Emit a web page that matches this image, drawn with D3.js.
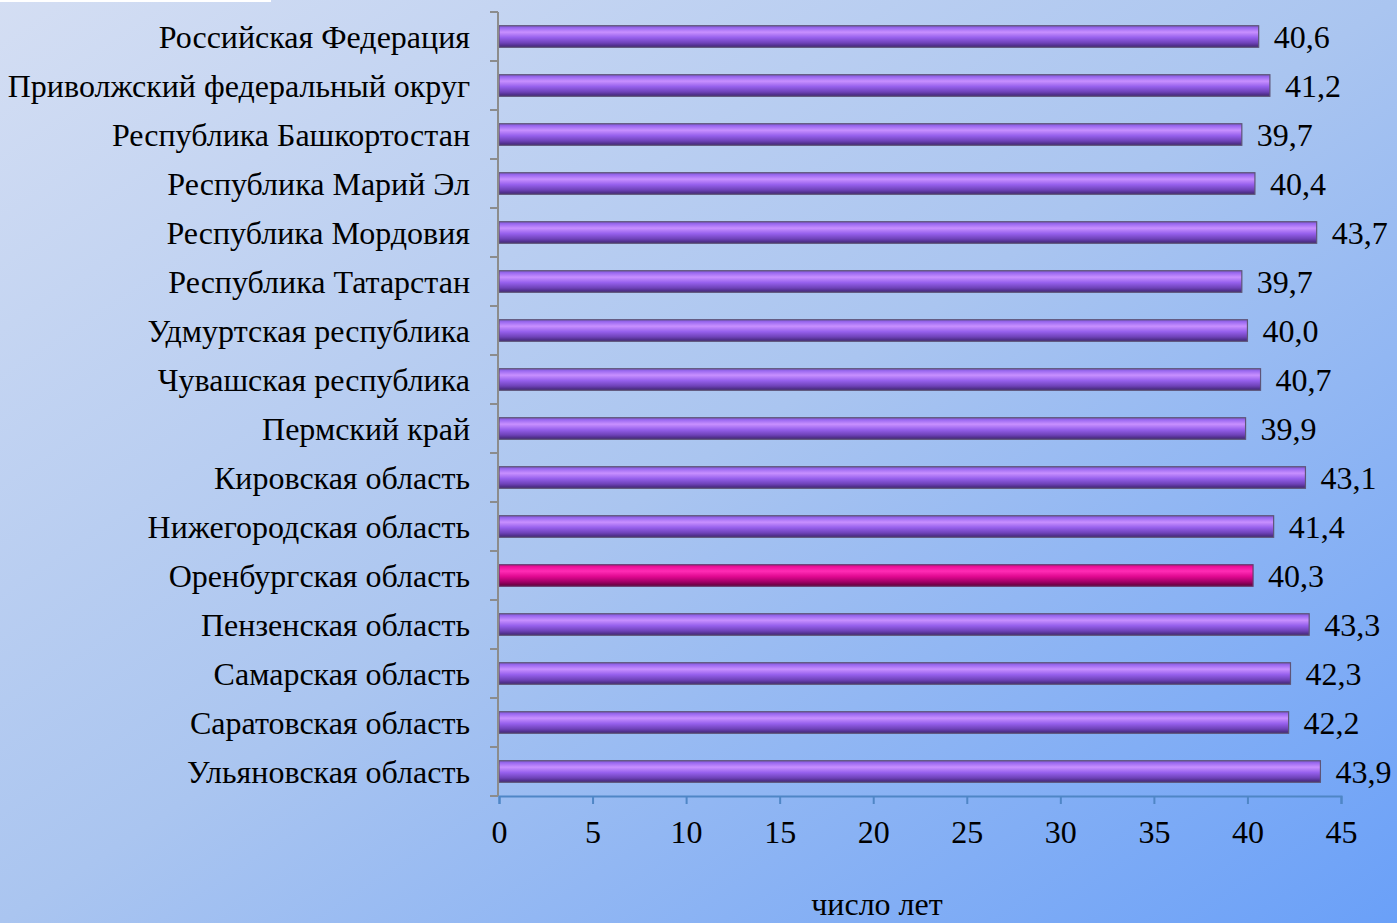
<!DOCTYPE html>
<html>
<head>
<meta charset="utf-8">
<script src="https://cdn.jsdelivr.net/npm/d3@7"></script>
<style>
html,body{margin:0;padding:0;overflow:hidden;}
svg{display:block;}
</style>
</head>
<body>
<script>
const categories = [
  "Российская Федерация",
  "Приволжский федеральный округ",
  "Республика Башкортостан",
  "Республика Марий Эл",
  "Республика Мордовия",
  "Республика Татарстан",
  "Удмуртская республика",
  "Чувашская республика",
  "Пермский край",
  "Кировская область",
  "Нижегородская область",
  "Оренбургская область",
  "Пензенская область",
  "Самарская область",
  "Саратовская область",
  "Ульяновская область"
];
const values = [40.6, 41.2, 39.7, 40.4, 43.7, 39.7, 40.0, 40.7, 39.9, 43.1, 41.4, 40.3, 43.3, 42.3, 42.2, 43.9];
const highlighted = ["Оренбургская область"];
const xTicks = [0, 5, 10, 15, 20, 25, 30, 35, 40, 45];
const xTitle = "число лет";

const FONT = "'Liberation Serif', 'Times New Roman', 'DejaVu Serif', serif";
const FS = 32;
const W = 1397, H = 923;
const svg = d3.select("body").append("svg").attr("width", W).attr("height", H)
  .style("font-family", FONT);
const defs = svg.append("defs");

const bg = defs.append("linearGradient").attr("id","bg")
  .attr("x1","0").attr("y1","0").attr("x2","1").attr("y2","1");
bg.append("stop").attr("offset","0").attr("stop-color","#d4def3");
bg.append("stop").attr("offset","0.5").attr("stop-color","#aac5f0");
bg.append("stop").attr("offset","1").attr("stop-color","#6aa0f8");
svg.append("rect").attr("width",W).attr("height",H).attr("fill","url(#bg)");
svg.append("rect").attr("x",0).attr("y",0).attr("width",271).attr("height",2).attr("fill","#ffffff");

function barGrad(id, stops){
  const g = defs.append("linearGradient").attr("id",id).attr("x1","0").attr("y1","0").attr("x2","0").attr("y2","1");
  stops.forEach(s => g.append("stop").attr("offset",s[0]).attr("stop-color",s[1]));
}
barGrad("gPurple", [[0,"#7a58c8"],[0.1,"#9a68f0"],[0.3,"#c890ff"],[0.55,"#9660ec"],[0.8,"#6e42b8"],[1,"#3e2470"]]);
barGrad("gPink", [[0,"#c0107e"],[0.1,"#f0109c"],[0.3,"#ff2cb4"],[0.55,"#e00890"],[0.8,"#a00066"],[1,"#5a0038"]]);

const m = {left:499, right:1341, top:12, bottom:796};
const x = d3.scaleLinear().domain([0,45]).range([m.left, m.right]);
const y = d3.scaleBand().domain(categories).range([m.top, m.bottom]).paddingInner(0.56).paddingOuter(0.28);
const fmt = v => d3.format(".1f")(v).replace(".", ",");

function styleText(sel){
  return sel.style("font-family", FONT).attr("font-size", FS).attr("fill", "#000");
}

// bars
svg.append("g").selectAll("rect").data(categories).join("rect")
  .attr("x", x(0))
  .attr("y", d => y(d))
  .attr("width", (d,i) => x(values[i]) - x(0))
  .attr("height", y.bandwidth())
  .attr("fill", d => highlighted.includes(d) ? "url(#gPink)" : "url(#gPurple)")
  .attr("stroke", d => highlighted.includes(d) ? "#6a3a70" : "#5e5478")
  .attr("stroke-width", 1.2);

// value labels
styleText(svg.append("g").selectAll("text").data(categories).join("text")
  .attr("x", (d,i) => x(values[i]) + 15)
  .attr("y", d => y(d) + y.bandwidth()/2)
  .attr("dy","0.35em"))
  .text((d,i) => fmt(values[i]));

// y axis
const yAxisG = svg.append("g");
yAxisG.append("line").attr("x1", m.left-1).attr("x2", m.left-1).attr("y1", m.top).attr("y2", m.bottom)
  .attr("stroke","#8c8c8c").attr("stroke-width",2);
const bounds = d3.range(categories.length + 1).map(i => m.top + i*(m.bottom-m.top)/categories.length);
yAxisG.selectAll("line.t").data(bounds).join("line").attr("class","t")
  .attr("x1", m.left-9).attr("x2", m.left-1).attr("y1", d=>d).attr("y2", d=>d)
  .attr("stroke","#8c8c8c").attr("stroke-width",2);
styleText(yAxisG.selectAll("text").data(categories).join("text")
  .attr("x", 470)
  .attr("y", d => y(d) + y.bandwidth()/2)
  .attr("dy","0.35em")
  .attr("text-anchor","end"))
  .text(d => d);

// x axis
const xAxis = d3.axisBottom(x).tickValues(xTicks).tickSize(8).tickPadding(16).tickFormat(d3.format("d"));
const xg = svg.append("g").attr("transform", `translate(0,${m.bottom})`).call(xAxis);
xg.attr("font-family", null);
xg.select(".domain").attr("stroke","#4f86c6").attr("stroke-width",2);
xg.selectAll(".tick line").attr("stroke","#4f86c6").attr("stroke-width",2);
styleText(xg.selectAll(".tick text"));

styleText(svg.append("text").attr("x", 877).attr("y", 915).attr("text-anchor","middle")).text(xTitle);
</script>
</body>
</html>
